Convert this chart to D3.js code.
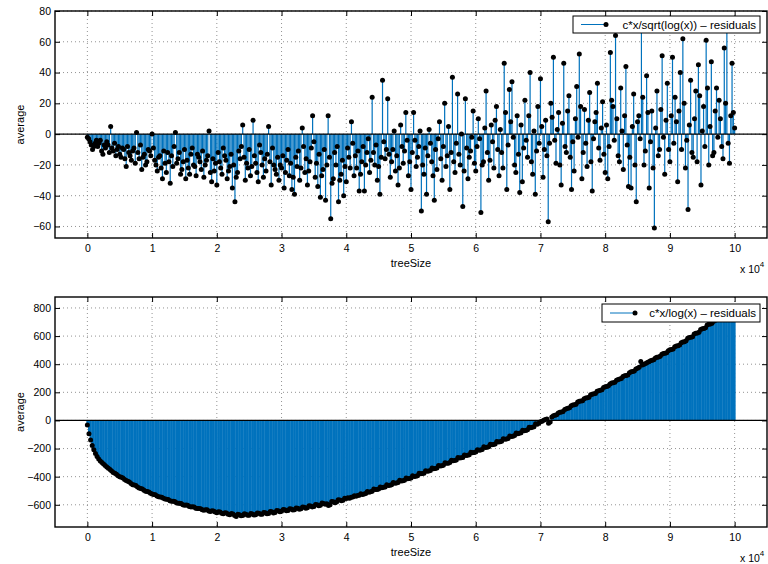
<!DOCTYPE html>
<html>
<head>
<meta charset="utf-8">
<script src="https://cdn.jsdelivr.net/npm/d3@7/dist/d3.min.js"></script>
<style>
  body { margin: 0; background: #fff; }
  text { font-family: "Liberation Sans", Arial, Helvetica, sans-serif; fill: #000; }
</style>
</head>
<body>
<svg id="chart" width="768" height="564"></svg>
<script>
// treeSize runs 0 .. 1e5, samples evenly spaced
const treeSizeMax = 100000;
const xTicks = [0, 10000, 20000, 30000, 40000, 50000, 60000, 70000, 80000, 90000, 100000];
const yTicksTop = [-60, -40, -20, 0, 20, 40, 60, 80];
const yTicksBottom = [-600, -400, -200, 0, 200, 400, 600, 800];
const labelTop = "c*x/sqrt(log(x)) – residuals";
const labelBottom = "c*x/log(x) – residuals";

// residuals of c*x/sqrt(log(x)) (one row per 1e4)
const sqrtLogResiduals = [
  -2,-3,-5,-7,-10,-8,-6,-4,-8,-6,-4,-11,-13,-7,-9,-5,-7,-12,5,-9,-11,-6,-14,-10,-8,-13,-15,-9,-10,-16,-21,-8,-12,-14,-17,-11,-9,-19,1,-12,-16,-7,-23,-15,-13,-20,-18,-10,-11,-14,
  0,-9,-17,-20,-24,-15,-14,-22,-29,-11,-19,-25,-12,-18,-32,-14,-21,-8,1,-19,-16,-12,-26,-23,-18,-10,-29,-17,-22,-26,-13,-9,-20,-21,-27,-13,-15,-18,-23,-11,-28,-20,-17,-14,2,-25,-31,-16,-24,-19,
  -33,-12,-18,-22,-26,-9,-14,-17,-29,-24,-21,-13,-35,-20,-44,-28,-25,-11,-16,-8,6,-15,-30,-19,-22,-10,-27,-21,9,-14,-19,-25,-31,-7,-12,-20,-28,-16,-24,-13,5,-18,-33,-9,-20,-23,-26,-15,-30,-20,
  -22,-14,-35,-25,-17,-10,-27,-19,-36,-28,-39,-15,-21,-11,-30,-22,4,-8,-25,-16,-33,-24,-18,-9,12,-5,-28,-19,-34,-13,-41,-27,-23,-10,-43,-20,12,-15,-55,-32,-29,-12,-20,-8,-44,-30,-26,-17,-40,-21,
  -31,-9,-15,-22,8,-6,-27,-14,-22,-11,-37,-26,-18,-8,-37,-20,-12,-3,-25,-17,24,-12,-20,-7,-30,-21,-39,-15,35,-5,-16,-10,23,-13,-28,-18,-10,2,-24,-14,-33,-22,6,-8,-19,-11,14,-4,-27,-18,
  -36,-12,14,-4,-21,-15,-8,2,-50,-20,-26,-9,-39,-14,3,-6,-18,-27,-43,-10,-23,-3,8,-16,-30,-8,20,-21,-14,5,-36,-12,37,-18,-25,-6,26,-13,-20,0,-47,-24,23,-9,-29,-15,-11,-2,15,-19,
  -24,-8,10,-3,-51,-20,-18,4,28,-12,-30,-17,6,-5,-22,9,18,-10,-27,3,-12,-22,46,14,-36,-7,29,8,34,-2,-20,-25,12,-13,-38,6,-31,-9,22,-4,-15,12,40,-18,-26,2,-39,-11,18,-6,
  36,5,-28,-10,9,-14,-57,-6,20,11,50,-4,-19,3,14,-20,-33,7,46,-8,-12,15,25,-15,-36,-5,-24,10,31,-2,52,18,-29,-12,16,-6,-21,9,27,-18,-37,-3,8,14,33,-9,-17,4,21,-13,
  -25,6,-29,-8,53,22,18,-4,64,10,-14,-18,30,2,-23,12,44,-7,-34,-15,-35,5,26,-20,-44,8,12,-3,70,24,-20,-11,38,14,-35,-5,15,-22,-61,4,28,-14,-10,16,51,-2,-26,9,33,-10,
  -18,12,50,-6,24,8,-31,15,40,-10,62,20,-22,-4,-49,6,35,-12,-15,10,28,-18,45,25,-33,2,18,-8,61,30,-20,5,47,-14,-12,15,30,-2,22,10,-8,-16,56,20,72,-6,-19,12,46,14,
  4
];

// residuals of c*x/log(x)
const logResiduals = [
  -32,-95,-140,-178,-208,-235,-256,-274,-288,-300,-309,-320,-331,-340,-349,-360,-370,-376,-383,-393,-401,-405,-410,-420,-428,-432,-438,-449,-457,-460,-463,-473,-480,-484,-488,-497,-503,-505,-509,-518,
  -524,-526,-529,-538,-543,-544,-546,-554,-559,-560,-563,-571,-575,-575,-577,-585,-589,-589,-591,-599,-603,-602,-604,-612,-615,-614,-616,-624,-627,-626,-628,-635,-638,-635,-636,-644,-647,-642,-644,-652,
  -656,-650,-652,-660,-663,-657,-659,-667,-670,-662,-666,-676,-684,-668,-670,-678,-676,-664,-668,-675,-674,-662,-665,-672,-671,-659,-661,-668,-667,-654,-656,-664,-662,-648,-650,-658,-655,-641,-643,-650,
  -646,-634,-636,-643,-641,-628,-630,-637,-635,-622,-624,-631,-629,-615,-617,-624,-621,-606,-608,-615,-613,-598,-600,-607,-603,-588,-590,-597,-592,-605,-600,-576,-578,-585,-580,-564,-566,-572,-568,-553,
  -556,-550,-553,-547,-545,-536,-540,-534,-532,-522,-526,-523,-520,-506,-510,-507,-503,-488,-492,-491,-488,-474,-478,-476,-474,-458,-462,-461,-458,-442,-446,-445,-442,-426,-430,-429,-426,-410,-414,-413,
  -410,-394,-398,-397,-393,-376,-380,-378,-375,-358,-362,-360,-356,-339,-343,-341,-338,-320,-324,-322,-318,-301,-305,-304,-300,-283,-287,-285,-282,-264,-268,-266,-263,-245,-249,-247,-244,-226,-230,-228,
  -225,-208,-212,-210,-206,-188,-192,-190,-187,-169,-173,-171,-168,-150,-154,-152,-148,-130,-134,-132,-128,-111,-115,-112,-108,-90,-94,-92,-88,-69,-73,-71,-67,-48,-52,-49,-45,-24,-28,-20,
  -10,-6,2,6,10,-20,-12,25,33,36,40,52,58,60,64,78,84,86,90,105,110,112,115,131,136,138,140,155,160,162,165,182,187,189,192,207,212,215,218,234,
  240,242,246,260,266,268,272,286,292,294,298,312,318,320,324,340,346,348,352,366,372,378,420,395,400,405,412,418,424,428,432,444,450,452,456,470,476,478,482,496,
  502,504,508,524,530,532,536,552,558,560,566,584,590,592,596,614,620,622,628,646,652,654,660,678,684,686,692,706,712,716,722,732,738,742,748,755,760,764,768,774,
  780
];

const stemColor = "#0072bd";
const svg = d3.select("#chart");

const drawPanel = (cfg) => {
  const { values, yDomain, yTicks, top, bottom, legend, stemWidth, legendBox } = cfg;
  const left = 55, right = 767;
  const n = values.length;
  const data = values.map((v, i) => ({ t: (i / (n - 1)) * treeSizeMax, v }));

  const x = d3.scaleLinear().domain([-5000, 105000]).range([left, right]);
  const y = d3.scaleLinear().domain(yDomain).range([bottom, top]);
  const g = svg.append("g");

  // dotted grid
  g.append("g").selectAll("line").data(xTicks).join("line")
    .attr("x1", (d) => x(d)).attr("x2", (d) => x(d))
    .attr("y1", top).attr("y2", bottom)
    .attr("stroke", "#777").attr("stroke-width", 0.8).attr("stroke-dasharray", "1,3");
  g.append("g").selectAll("line").data(yTicks).join("line")
    .attr("x1", left).attr("x2", right)
    .attr("y1", (d) => y(d)).attr("y2", (d) => y(d))
    .attr("stroke", "#777").attr("stroke-width", 0.8).attr("stroke-dasharray", "1,3");

  // stems
  g.append("g").selectAll("line").data(data).join("line")
    .attr("x1", (d) => x(d.t)).attr("x2", (d) => x(d.t))
    .attr("y1", y(0)).attr("y2", (d) => y(d.v))
    .attr("stroke", stemColor).attr("stroke-width", stemWidth);

  // baseline
  g.append("line")
    .attr("x1", left).attr("x2", right).attr("y1", y(0)).attr("y2", y(0))
    .attr("stroke", "#000").attr("stroke-width", 1.3);

  // markers
  g.append("g").selectAll("circle").data(data).join("circle")
    .attr("cx", (d) => x(d.t)).attr("cy", (d) => y(d.v))
    .attr("r", 2.5).attr("fill", "#000");

  // axes, ticks inward on all four sides
  const fmtX = (d) => d / 10000;
  g.append("g").attr("transform", `translate(0,${bottom})`)
    .call(d3.axisBottom(x).tickValues(xTicks).tickFormat(fmtX).tickSizeInner(-5).tickSizeOuter(0).tickPadding(7));
  g.append("g").attr("transform", `translate(0,${top})`)
    .call(d3.axisTop(x).tickValues(xTicks).tickFormat("").tickSizeInner(-5).tickSizeOuter(0));
  g.append("g").attr("transform", `translate(${left},0)`)
    .call(d3.axisLeft(y).tickValues(yTicks).tickSizeInner(-5).tickSizeOuter(0).tickPadding(4));
  g.append("g").attr("transform", `translate(${right},0)`)
    .call(d3.axisRight(y).tickValues(yTicks).tickFormat("").tickSizeInner(-5).tickSizeOuter(0));
  g.selectAll(".domain").remove();
  g.selectAll(".tick text").attr("font-size", 10.5).attr("font-family", "Liberation Sans, Arial, sans-serif");
  g.selectAll(".tick line").attr("stroke", "#000");

  g.append("rect")
    .attr("x", left).attr("y", top).attr("width", right - left).attr("height", bottom - top)
    .attr("fill", "none").attr("stroke", "#000").attr("stroke-width", 1.4);

  // labels
  g.append("text").attr("x", (left + right) / 2).attr("y", bottom + 29)
    .attr("text-anchor", "middle").attr("font-size", 11).text("treeSize");
  g.append("text").attr("transform", `translate(24,${(top + bottom) / 2}) rotate(-90)`)
    .attr("text-anchor", "middle").attr("font-size", 11).text("average");
  const e = g.append("text").attr("x", 740).attr("y", bottom + 35).attr("font-size", 10.5);
  e.append("tspan").text("x 10");
  e.append("tspan").attr("dy", -6).attr("font-size", 8).text("4");

  // legend
  const [lx, ly, lw, lh] = legendBox;
  const lg = g.append("g");
  lg.append("rect").attr("x", lx).attr("y", ly).attr("width", lw).attr("height", lh)
    .attr("fill", "#fff").attr("stroke", "#000").attr("stroke-width", 1);
  lg.append("line").attr("x1", lx + 8).attr("x2", lx + 33).attr("y1", ly + lh / 2).attr("y2", ly + lh / 2)
    .attr("stroke", stemColor).attr("stroke-width", 1);
  lg.append("circle").attr("cx", lx + 33).attr("cy", ly + lh / 2).attr("r", 2.5).attr("fill", "#000");
  lg.append("text").attr("x", lx + lw - 4).attr("y", ly + lh / 2 + 4)
    .attr("text-anchor", "end").attr("font-size", 11.5).text(legend);
};

drawPanel({
  values: sqrtLogResiduals, yDomain: [-67.5, 80], yTicks: yTicksTop,
  top: 11, bottom: 238, legend: labelTop, stemWidth: 1.2, legendBox: [573, 16, 187, 17]
});
drawPanel({
  values: logResiduals, yDomain: [-758, 878], yTicks: yTicksBottom,
  top: 297, bottom: 527, legend: labelBottom, stemWidth: 2, legendBox: [602, 304, 158, 18]
});
</script>
</body>
</html>
